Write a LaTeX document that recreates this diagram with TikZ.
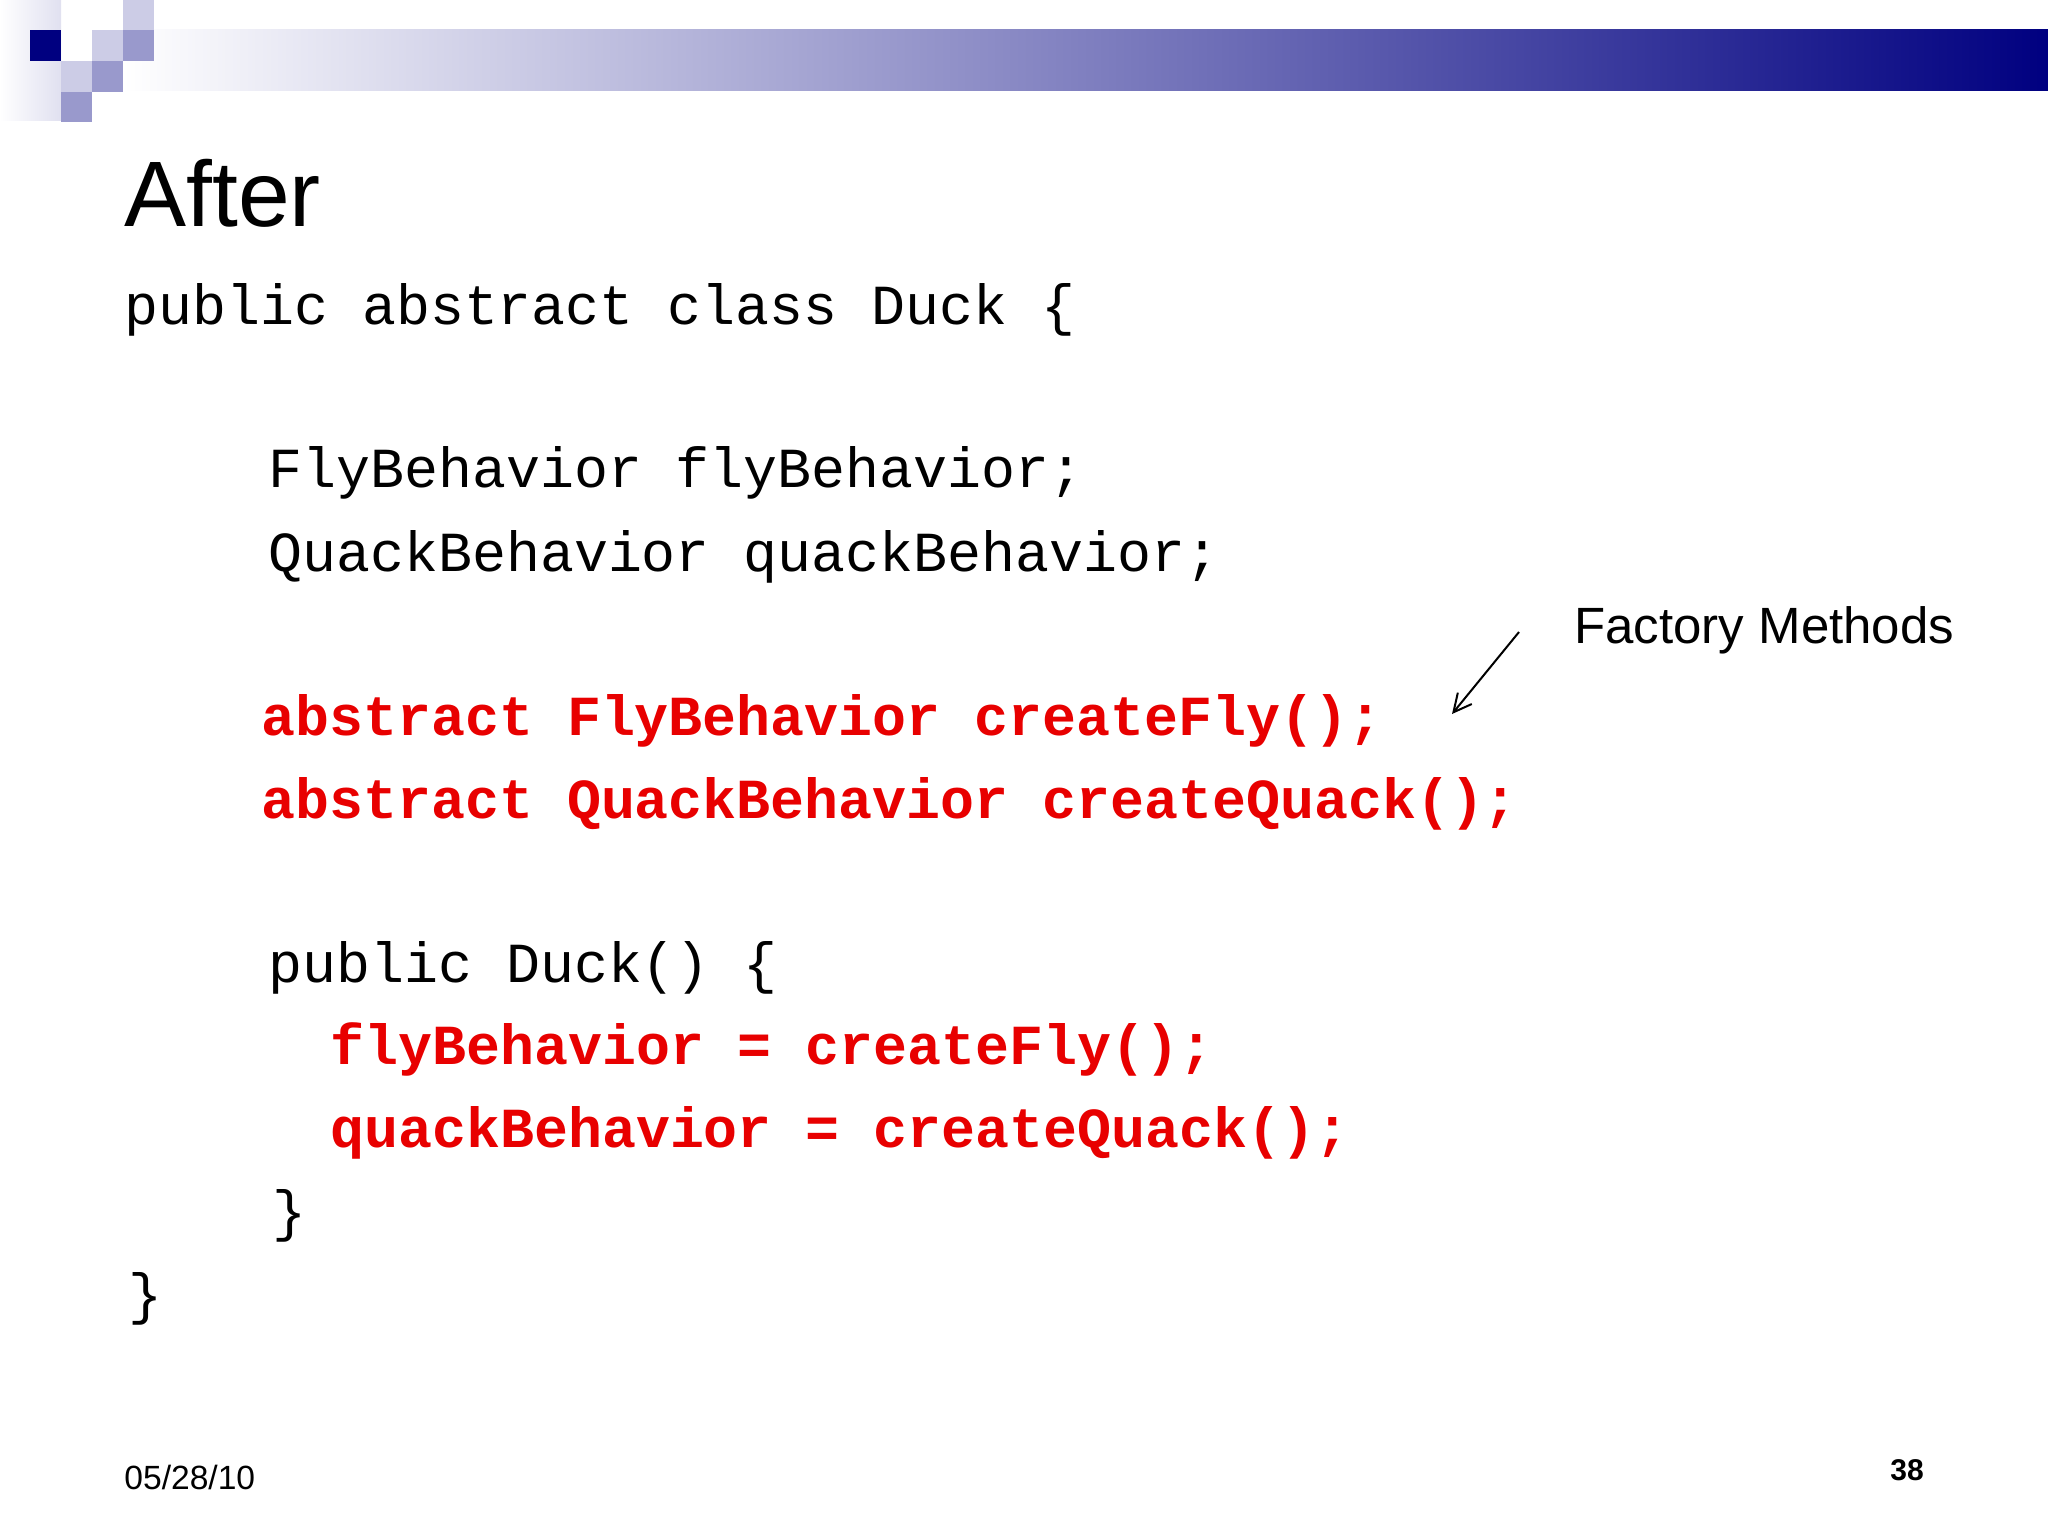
\documentclass[tikz,border=0pt]{standalone}
\usepackage{fontspec}
\usetikzlibrary{arrows.meta}
\setmainfont{Liberation Sans}
\setmonofont{Liberation Mono}
\definecolor{navy}{RGB}{0,0,128}
\definecolor{lightsq}{RGB}{204,204,230}
\definecolor{medsq}{RGB}{153,153,204}
\definecolor{codered}{RGB}{232,0,0}
\begin{document}
\begin{tikzpicture}[x=0.5pt,y=-0.5pt,
  txt/.style={anchor=base west,inner sep=0pt},
  code/.style={txt,font=\fontsize{28.3}{30}\ttfamily},
  redcode/.style={code,font=\fontsize{28.3}{30}\ttfamily\bfseries,text=codered}]
\useasboundingbox (0,0) rectangle (2048,1536);
\fill[white] (0,0) rectangle (2048,1536);
% band and left strip
\shade[left color=white,right color=navy] (123,30) rectangle (2048,91);
\shade[left color=white,right color=lightsq!60] (0,0) rectangle (61,120);
\fill[navy] (30,30) rectangle (61,61);
\fill[lightsq] (61,61) rectangle (92,92);
\fill[lightsq] (92,30) rectangle (123,61);
\fill[medsq] (123,30) rectangle (154,61);
\fill[lightsq] (123,0) rectangle (154,30);
\fill[medsq] (92,61) rectangle (123,92);
\fill[medsq] (61,92) rectangle (92,122);
% title
\node[txt,font=\fontsize{46.5}{48}\selectfont] (title) at (124,226) {After};
% code
\node[code] (l1) at (124,324) {public abstract class Duck \{};
\node[code] (l2) at (268,487) {FlyBehavior flyBehavior;};
\node[code] (l3) at (268,571) {QuackBehavior quackBehavior;};
\node[redcode] (l4) at (261,735) {abstract FlyBehavior createFly();};
\node[redcode] (l5) at (261,818) {abstract QuackBehavior createQuack();};
\node[code] (l6) at (268,982) {public Duck() \{};
\node[redcode] (l7) at (330,1064) {flyBehavior = createFly();};
\node[redcode] (l8) at (330,1147) {quackBehavior = createQuack();};
\node[code] (l9) at (272,1230) {\}};
\node[code] (l10) at (128,1313) {\}};
% annotation
\node[txt,font=\fontsize{25.5}{27}\selectfont] (fm) at (1574,643) {Factory Methods};
\coordinate (a1) at (1519,632);
\coordinate (a2) at (1452,714);
\draw[line width=1pt,-{Straight Barb[length=9pt,width=9pt]}] (a1) -- (a2);
% footer
\node[txt,font=\fontsize{16.8}{18}\selectfont] (date) at (124,1489) {05/28/10};
\node[txt,font=\fontsize{15}{16}\selectfont\bfseries] (pg) at (1890,1480) {38};
\end{tikzpicture}
\end{document}
